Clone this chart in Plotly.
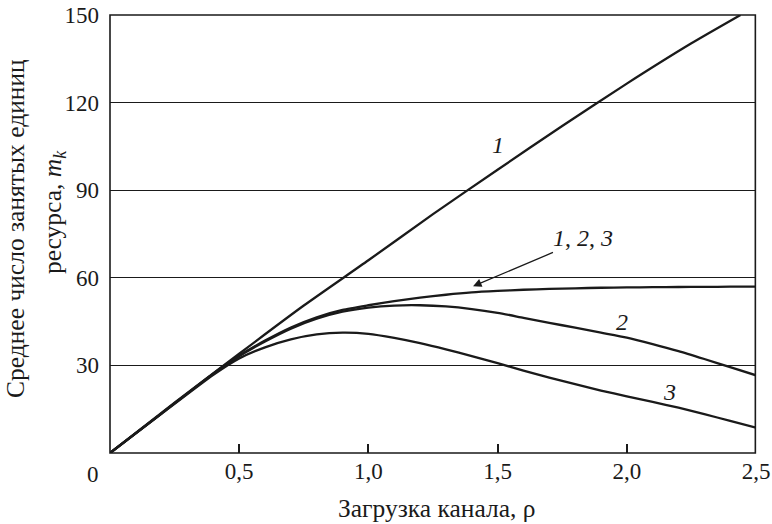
import plotly.graph_objects as go

# Curve 1 (straight-ish)
rho_1 = [0, 0.25, 0.5, 0.75, 1.0, 1.25, 1.5, 1.75, 2.0, 2.25, 2.44]
m_1 = [0, 17.2, 34, 50.5, 66, 81.8, 97, 112, 126.5, 140.3, 150]

# Common rho grid for curves "1,2,3" (saturating), 2, 3
rho = [0, 0.2, 0.4, 0.5, 0.6, 0.7, 0.8, 0.9, 1.0, 1.1, 1.2, 1.3, 1.4, 1.5,
       1.6, 1.7, 1.8, 1.9, 2.0, 2.1, 2.2, 2.3, 2.4, 2.5]
m_a = [0, 13.6, 27.2, 33.3, 38.5, 43.0, 46.5, 49.0, 50.6, 52.0, 53.2, 54.2, 55.0, 55.5,
       55.9, 56.2, 56.4, 56.6, 56.7, 56.8, 56.85, 56.9, 56.95, 57.0]
m_2 = [0, 13.6, 27.2, 33.2, 38.2, 42.6, 46.0, 48.4, 49.8, 50.5, 50.6, 50.2, 49.3, 48.0,
       46.3, 44.6, 42.9, 41.2, 39.5, 37.3, 34.9, 32.2, 29.4, 26.6]
m_3 = [0, 13.5, 26.8, 32.4, 36.2, 38.9, 40.6, 41.2, 40.8, 39.4, 37.6, 35.5, 33.2, 30.8,
       28.2, 25.8, 23.6, 21.4, 19.4, 17.5, 15.5, 13.3, 11.0, 8.7]

x_ticks = [0.5, 1.0, 1.5, 2.0, 2.5]
x_tick_labels = ["0,5", "1,0", "1,5", "2,0", "2,5"]
y_ticks = [30, 60, 90, 120, 150]
y_tick_labels = ["30", "60", "90", "120", "150"]

FONT = "Liberation Serif, Times New Roman, serif"
INK = "#1a1a1a"
line_style = dict(color=INK, width=2.3, shape="spline", smoothing=0.6)

fig = go.Figure()
for xs, ys in [(rho_1, m_1), (rho, m_a), (rho, m_2), (rho, m_3)]:
    fig.add_trace(go.Scatter(x=xs, y=ys, mode="lines", line=line_style,
                             showlegend=False, hoverinfo="skip"))

ann_font = dict(family=FONT, size=24, color=INK)
for x, y, t in [(1.50, 105.5, "<i>1</i>"), (1.98, 45, "<i>2</i>"), (2.165, 21, "<i>3</i>"),
                (1.83, 73.8, "<i>1</i>, <i>2</i>, <i>3</i>")]:
    fig.add_annotation(x=x, y=y, text=t, showarrow=False, font=ann_font,
                       xanchor="center", yanchor="middle")
fig.add_annotation(x=1.405, y=57.1, ax=1.72, ay=68.9, axref="x", ayref="y",
                   xref="x", yref="y", text="", showarrow=True,
                   arrowhead=2, arrowsize=1.3, arrowwidth=1.3, arrowcolor=INK)
# corner zero label
fig.add_annotation(xref="paper", yref="paper", x=-0.0263, y=-0.0502, text="0",
                   xanchor="center", yanchor="middle",
                   showarrow=False, font=dict(family=FONT, size=23, color=INK))
# axis titles
TITLE_SIZE = 25.5
fig.add_annotation(xref="paper", yref="paper", x=0.506, y=-0.1256,
                   xanchor="center", yanchor="middle",
                   text="Загрузка канала, ρ", showarrow=False,
                   font=dict(family=FONT, size=TITLE_SIZE, color=INK))
fig.add_annotation(xref="paper", yref="paper", x=-0.146, y=0.513, textangle=-90,
                   xanchor="center", yanchor="middle",
                   text="Среднее число занятых единиц", showarrow=False,
                   font=dict(family=FONT, size=TITLE_SIZE, color=INK))
fig.add_annotation(xref="paper", yref="paper", x=-0.0867, y=0.550, textangle=-90,
                   xanchor="center", yanchor="middle",
                   text="ресурса, <i>m<sub>k</sub></i>", showarrow=False,
                   font=dict(family=FONT, size=TITLE_SIZE, color=INK))

# plot frame
fig.add_shape(type="rect", xref="paper", yref="paper", x0=0, y0=0, x1=0.999, y1=1,
              line=dict(color=INK, width=1.6), layer="above")

fig.update_layout(
    width=772, height=524,
    margin=dict(l=110, r=16, t=15, b=71),
    paper_bgcolor="white", plot_bgcolor="white",
    font=dict(family=FONT, size=23, color=INK),
    xaxis=dict(range=[0, 2.5], tickvals=x_ticks, ticktext=x_tick_labels,
               ticks="inside", ticklen=9, tickwidth=1.5, tickcolor=INK,
               showgrid=False, zeroline=False, automargin=False,
               ticklabelstandoff=2, ticklabeloverflow="allow",
               showline=False,
               tickfont=dict(size=23)),
    yaxis=dict(range=[0, 150], tickvals=y_ticks, ticktext=y_tick_labels,
               ticks="", showgrid=True, gridcolor=INK, gridwidth=1.3,
               zeroline=False, automargin=False, ticklabelstandoff=10,
               ticklabeloverflow="allow",
               showline=False,
               tickfont=dict(size=23)),
)

fig.write_html("out.html", config={"displayModeBar": False},
               post_script="document.body.style.margin='0';document.body.style.overflow='hidden';")
